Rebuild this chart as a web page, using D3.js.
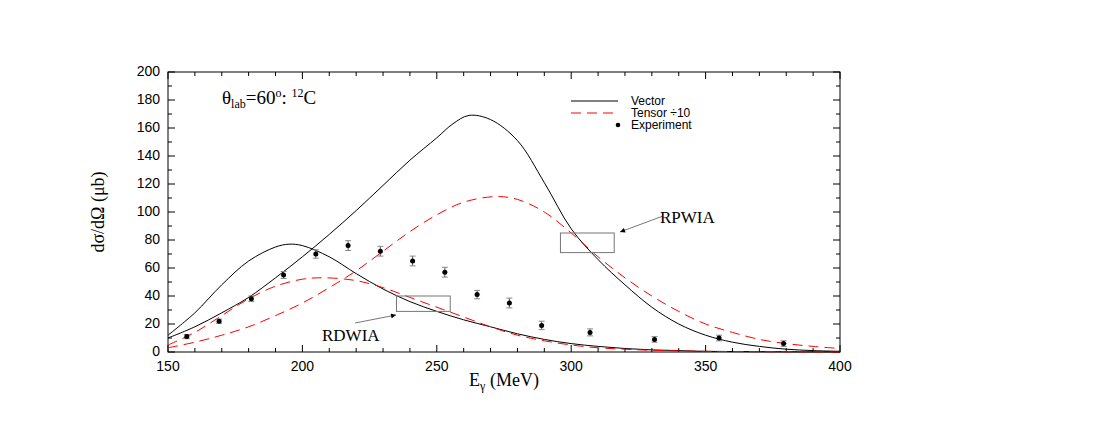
<!DOCTYPE html>
<html><head><meta charset="utf-8">
<script src="https://cdn.jsdelivr.net/npm/d3@7"></script>
<style>body{margin:0;background:#fff}</style>
</head><body>
<svg id="c" width="1100" height="425"></svg>
<script>
const vecRPWIA = [[150,10],[160,18],[170,28],[180,39],[190,53],[200,68],[210,84],[220,101],[230,119],[240,137],[250,153],[256,163],[262,169],[270,166],[280,151],[290,121],[300,88],[310,66],[320,48],[330,32],[340,20],[350,12],[360,7],[370,4],[380,2],[390,1],[400,0.5]];
const tenRPWIA = [[150,3],[160,7],[170,12],[180,18],[190,26],[200,35],[210,46],[220,58],[230,72],[240,86],[250,98],[260,107],[272,111],[280,109],[290,100],[300,85],[310,68],[320,53],[330,40],[340,29],[350,20],[360,14],[370,9],[380,6],[390,4],[400,2.5]];
const vecRDWIA = [[150,12],[160,28],[170,48],[180,65],[190,75],[195,77],[200,76],[210,68],[220,56],[230,45],[240,36],[250,29],[260,23],[270,18],[280,13],[290,9],[300,6],[310,4],[320,2.5],[330,1.5],[340,1],[350,0.5],[400,0]];
const tenRDWIA = [[150,5],[160,14],[170,26],[180,38],[190,47],[200,52],[208,53],[220,51],[230,46],[240,39],[250,32],[260,25],[270,18],[280,12],[290,8],[300,5],[310,3],[320,2],[330,1.2],[350,0.5],[400,0]];
const expE = [157,169,181,193,205,217,229,241,253,265,277,289,307,331,355,379];
const expY = [11,22,38,55,70,76,72,65,57,41,35,19,14,9,10,6];
const expErr = [1.5,1.5,2,2.5,3,3.5,3.5,3.5,3.5,3,3.5,3,2.5,2,2,2];
const xTicks = [150,200,250,300,350,400];
const yTicks = [0,20,40,60,80,100,120,140,160,180,200];

const svg = d3.select('#c');
const L = 168, R = 840, T = 72, B = 352;
const x = d3.scaleLinear().domain([150,400]).range([L,R]);
const y = d3.scaleLinear().domain([0,200]).range([B,T]);
const sans = 'Liberation Sans, Arial, sans-serif', serif = 'Liberation Serif, Times New Roman, serif';

// frame
svg.append('rect').attr('x',L).attr('y',T).attr('width',R-L).attr('height',B-T)
  .attr('fill','none').attr('stroke','#000').attr('stroke-width',1);
// inside ticks
d3.range(150,401,10).forEach(v => {
  const len = v % 50 === 0 ? 7 : 4;
  svg.append('line').attr('x1',x(v)).attr('x2',x(v)).attr('y1',B).attr('y2',B-len).attr('stroke','#000');
  svg.append('line').attr('x1',x(v)).attr('x2',x(v)).attr('y1',T).attr('y2',T+len).attr('stroke','#000');
});
d3.range(0,201,10).forEach(v => {
  const len = v % 20 === 0 ? 7 : 4;
  svg.append('line').attr('y1',y(v)).attr('y2',y(v)).attr('x1',L).attr('x2',L+len).attr('stroke','#000');
  svg.append('line').attr('y1',y(v)).attr('y2',y(v)).attr('x1',R).attr('x2',R-len).attr('stroke','#000');
});
xTicks.forEach(v => svg.append('text').attr('x',x(v)).attr('y',B+19).attr('text-anchor','middle')
  .attr('font-family',sans).attr('font-size',14).text(v));
yTicks.forEach(v => svg.append('text').attr('x',L-8).attr('y',y(v)+4).attr('text-anchor','end')
  .attr('font-family',sans).attr('font-size',14).text(v));

// axis titles
const xt = svg.append('text').attr('x',504).attr('y',386).attr('text-anchor','middle')
  .attr('font-family',serif).attr('font-size',18);
xt.append('tspan').text('E');
xt.append('tspan').attr('font-size',12).attr('dy',4).text('γ');
xt.append('tspan').attr('dy',-4).text(' (MeV)');
svg.append('text').attr('transform','translate(104,212) rotate(-90)').attr('text-anchor','middle')
  .attr('font-family',serif).attr('font-size',18).text('dσ/dΩ (μb)');

// curves
const line = d3.line().x(d => x(d[0])).y(d => y(d[1])).curve(d3.curveCatmullRom);
[[vecRPWIA,'#000',null],[vecRDWIA,'#000',null],[tenRPWIA,'#f00','10,6'],[tenRDWIA,'#f00','10,6']].forEach(([d,c,da]) =>
  svg.append('path').datum(d).attr('d',line).attr('fill','none').attr('stroke',c)
    .attr('stroke-width',1).attr('stroke-dasharray',da));

// experiment
expE.forEach((e,i) => {
  const cx = x(e), y0 = y(expY[i] - expErr[i]), y1 = y(expY[i] + expErr[i]);
  svg.append('line').attr('x1',cx).attr('x2',cx).attr('y1',y0).attr('y2',y1).attr('stroke','#555');
  [y0,y1].forEach(yy => svg.append('line').attr('x1',cx-3).attr('x2',cx+3).attr('y1',yy).attr('y2',yy).attr('stroke','#888'));
  svg.append('circle').attr('cx',cx).attr('cy',y(expY[i])).attr('r',2.5).attr('fill','#000');
});

// boxes + arrows
svg.append('rect').attr('x',x(235)).attr('y',y(40)).attr('width',x(255)-x(235)).attr('height',y(29)-y(40))
  .attr('fill','none').attr('stroke','#777');
svg.append('rect').attr('x',x(296)).attr('y',y(85)).attr('width',x(316)-x(296)).attr('height',y(71)-y(85))
  .attr('fill','none').attr('stroke','#777');
svg.append('defs').append('marker').attr('id','ah').attr('viewBox','0 0 10 10').attr('refX',10).attr('refY',5)
  .attr('markerWidth',7).attr('markerHeight',5).attr('orient','auto')
  .append('path').attr('d','M0,0L10,5L0,10Z').attr('fill','#000');
svg.append('line').attr('x1',355).attr('y1',323).attr('x2',396).attr('y2',315).attr('stroke','#777').attr('marker-end','url(#ah)');
svg.append('line').attr('x1',663).attr('y1',216).attr('x2',620).attr('y2',232).attr('stroke','#777').attr('marker-end','url(#ah)');
svg.append('text').attr('x',322).attr('y',341).attr('font-family',serif).attr('font-size',17).text('RDWIA');
svg.append('text').attr('x',660).attr('y',223).attr('font-family',serif).attr('font-size',17).text('RPWIA');

// label
const lab = svg.append('text').attr('x',222).attr('y',104).attr('font-family',serif).attr('font-size',19);
lab.append('tspan').text('θ');
lab.append('tspan').attr('font-size',12).attr('dy',4).text('lab');
lab.append('tspan').attr('dy',-4).text('=60');
lab.append('tspan').attr('font-size',12).attr('dy',-7).text('o');
lab.append('tspan').attr('dy',7).text(':  ');
lab.append('tspan').attr('font-size',12).attr('dy',-7).text('12');
lab.append('tspan').attr('dy',7).text('C');

// legend
const leg = [['Vector','#000',null,101],['Tensor ÷10','#f00','10,6',113],['Experiment',null,null,125]];
leg.forEach(([t,c,da,yy]) => {
  if (c) svg.append('line').attr('x1',571).attr('x2',618).attr('y1',yy).attr('y2',yy).attr('stroke',c).attr('stroke-dasharray',da);
  else svg.append('circle').attr('cx',618).attr('cy',yy).attr('r',2.3).attr('fill','#000');
  svg.append('text').attr('x',631).attr('y',yy+4).attr('font-family',sans).attr('font-size',12).text(t);
});
</script>
</body></html>
